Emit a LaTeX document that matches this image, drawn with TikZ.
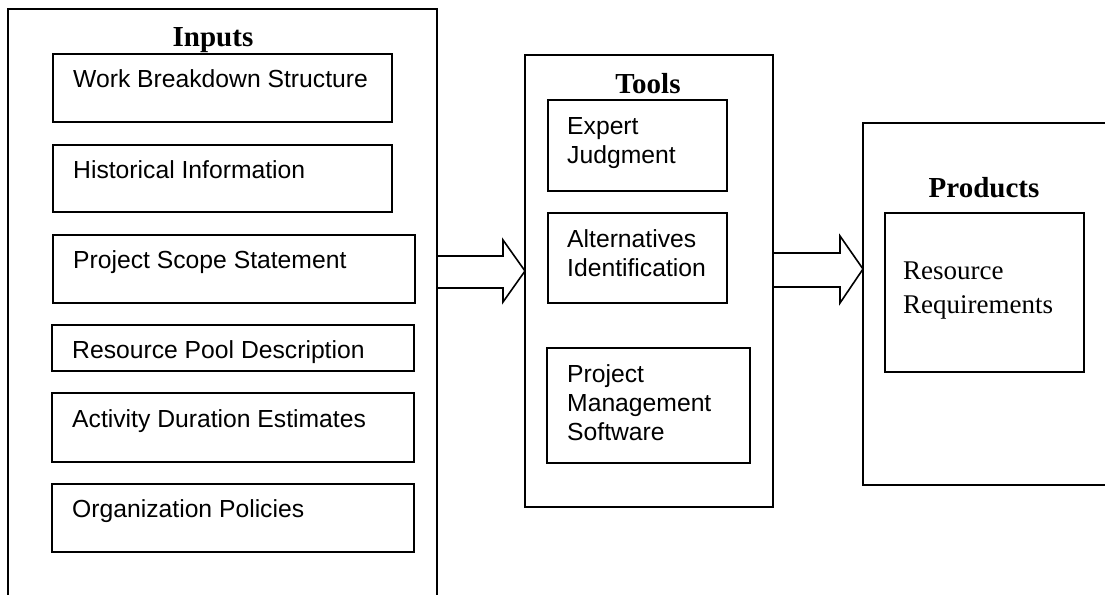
\documentclass[tikz,border=0pt]{standalone}
\usepackage{fontspec}
\setmainfont{Liberation Serif}
\setsansfont{Liberation Sans}
\usetikzlibrary{calc}

\tikzset{
  frame/.style={draw, line width=1.6pt, anchor=north west, inner sep=0pt, outer sep=0pt},
  item/.style={anchor=base west, inner sep=0pt, align=left,
               font=\sffamily\fontsize{24.7}{29}\selectfont},
  result/.style={anchor=base west, inner sep=0pt, align=left,
               font=\rmfamily\fontsize{27}{34}\selectfont},
  heading/.style={anchor=base, inner sep=0pt,
               font=\rmfamily\bfseries\fontsize{29}{34}\selectfont},
  blockarrow/.style={draw, line width=1.6pt, line join=miter},
}

\begin{document}
\begin{tikzpicture}[x=1pt, y=-1pt]
  \useasboundingbox (0,0) rectangle (1105,594);
  \clip (0,0) rectangle (1105,594);

  % Inputs column
  \node[frame, minimum width=429pt, minimum height=620pt] (inputs) at (8,9) {};
  \node[heading] (inputsT) at (213,47) {Inputs};
  \node[frame, minimum width=339pt, minimum height=68pt] (b1) at (53,54) {};
  \node[frame, minimum width=339pt, minimum height=67pt] (b2) at (53,145) {};
  \node[frame, minimum width=362pt, minimum height=68pt] (b3) at (53,235) {};
  \node[frame, minimum width=362pt, minimum height=46pt] (b4) at (52,325) {};
  \node[frame, minimum width=362pt, minimum height=69pt] (b5) at (52,393) {};
  \node[frame, minimum width=362pt, minimum height=68pt] (b6) at (52,484) {};
  \node[item] (b1t) at ($(b1.north west)+(20,33)$) {Work Breakdown Structure};
  \node[item] (b2t) at ($(b2.north west)+(20,33)$) {Historical Information};
  \node[item] (b3t) at ($(b3.north west)+(20,33)$) {Project Scope Statement};
  \node[item] (b4t) at ($(b4.north west)+(20,33)$) {Resource Pool Description};
  \node[item] (b5t) at ($(b5.north west)+(20,34)$) {Activity Duration Estimates};
  \node[item] (b6t) at ($(b6.north west)+(20,33)$) {Organization Policies};

  % Tools column (base anchor sits on the last line)
  \node[frame, minimum width=248pt, minimum height=452pt] (tools) at (525,55) {};
  \node[heading] (toolsT) at (648,93) {Tools};
  \node[frame, minimum width=179pt, minimum height=91pt] (t1) at (548,100) {};
  \node[frame, minimum width=179pt, minimum height=90pt] (t2) at (548,213) {};
  \node[frame, minimum width=203pt, minimum height=115pt] (t3) at (547,348) {};
  \node[item] (t1t) at ($(t1.north west)+(19,63)$) {Expert\\Judgment};
  \node[item] (t2t) at ($(t2.north west)+(19,63)$) {Alternatives\\Identification};
  \node[item] (t3t) at ($(t3.north west)+(20,92)$) {Project\\Management\\Software};

  % Products column
  \node[frame, minimum width=260pt, minimum height=362pt] (products) at (863,123) {};
  \node[heading] (productsT) at (984,197) {Products};
  \node[frame, minimum width=199pt, minimum height=159pt] (p1) at (885,213) {};
  \node[result] (p1t) at ($(p1.north west)+(18,100)$) {Resource\\Requirements};

  % Block arrows between the columns
  \draw[blockarrow] (inputs.north east |- 0,256) -- (503,256) -- (503,240)
    -- (tools.north west |- 0,271) -- (503,302) -- (503,288)
    -- (inputs.north east |- 0,288);
  \draw[blockarrow] (tools.north east |- 0,253) -- (840,253) -- (840,236)
    -- (products.north west |- 0,269) -- (840,303) -- (840,287)
    -- (tools.north east |- 0,287);
\end{tikzpicture}
\end{document}
